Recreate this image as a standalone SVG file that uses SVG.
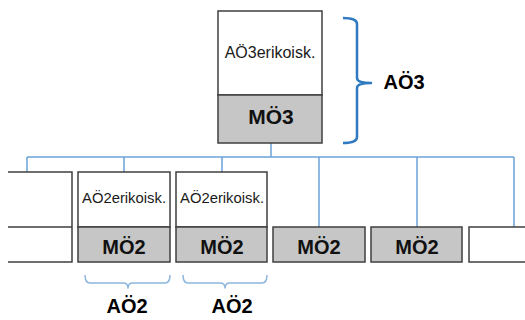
<svg xmlns="http://www.w3.org/2000/svg" width="525" height="320" viewBox="0 0 525 320">
  <defs>
    <style>
      .box { fill: #ffffff; stroke: #3f3f3f; stroke-width: 1.5; }
      .grey { fill: #c6c6c6; stroke: #3f3f3f; stroke-width: 1.5; }
      .edge { fill: none; stroke: #3f3f3f; stroke-width: 1.5; }
      .conn { fill: none; stroke: #6aa3d6; stroke-width: 1.5; }
      .brace { fill: none; stroke: #2f7ac0; stroke-width: 2.5; stroke-linejoin: round; }
      .brace-sm { fill: none; stroke: #8db6de; stroke-width: 1.5; stroke-linejoin: round; }
      .spec { font-family: "Liberation Sans", Arial, sans-serif; font-size: 14px; fill: #1a1a1a; text-anchor: middle; }
      .mo { font-family: "Liberation Sans", Arial, sans-serif; font-size: 20px; font-weight: bold; fill: #111111; text-anchor: middle; }
      .lbl { font-family: "Liberation Sans", Arial, sans-serif; font-size: 20px; font-weight: bold; fill: #000000; text-anchor: middle; }
    </style>
  </defs>

  <!-- connectors -->
  <g id="connectors">
    <path class="conn" d="M271,143 V157 M27,157 H514 M27,157 V172 M124,157 V172 M222,157 V172 M319,157 V227 M417,157 V227 M514,157 V227"/>
  </g>

  <!-- top unit -->
  <g id="mo3">
    <rect class="box" x="218" y="11" width="104" height="84"/>
    <rect class="grey" x="218" y="95" width="104" height="48"/>
    <text class="spec" x="270" y="58" style="font-size:16px">AÖ3erikoisk.</text>
    <text class="mo" x="271" y="124" style="font-size:21px">MÖ3</text>
  </g>

  <!-- left clipped unit -->
  <g id="unit-left">
    <path class="edge" d="M8,172 H72 V262 H8 M8,227 H72"/>
  </g>

  <g id="mo2-a">
    <rect class="box" x="78" y="172" width="92" height="55"/>
    <rect class="grey" x="78" y="227" width="92" height="35"/>
    <text class="spec" x="124" y="203" textLength="84" lengthAdjust="spacingAndGlyphs">AÖ2erikoisk.</text>
    <text class="mo" x="124" y="254">MÖ2</text>
  </g>

  <g id="mo2-b">
    <rect class="box" x="176" y="172" width="91" height="55"/>
    <rect class="grey" x="176" y="227" width="91" height="35"/>
    <text class="spec" x="222" y="203" textLength="84" lengthAdjust="spacingAndGlyphs">AÖ2erikoisk.</text>
    <text class="mo" x="222" y="254">MÖ2</text>
  </g>

  <g id="mo2-c">
    <rect class="grey" x="273" y="227" width="92" height="35"/>
    <text class="mo" x="319" y="254">MÖ2</text>
  </g>

  <g id="mo2-d">
    <rect class="grey" x="371" y="227" width="91" height="35"/>
    <text class="mo" x="417" y="254">MÖ2</text>
  </g>

  <!-- right clipped unit -->
  <g id="unit-right">
    <path class="edge" d="M526,227 H469 V262 H526"/>
  </g>

  <!-- level braces -->
  <g id="ao3">
    <path class="brace" d="M343,18 Q357,18 357,24 V78 Q357,83 371,83 Q357,83 357,88 V137 Q357,143 343,143"/>
    <text class="lbl" x="404" y="89">AÖ3</text>
  </g>

  <g id="ao2-a">
    <path class="brace-sm" d="M85,275 Q85,283 90,283 H123 Q128,283 128,288 Q128,283 133,283 H165 Q170,283 170,275"/>
    <text class="lbl" x="127" y="313">AÖ2</text>
  </g>

  <g id="ao2-b">
    <path class="brace-sm" d="M183,275 Q183,283 188,283 H220 Q225,283 225,288 Q225,283 230,283 H262 Q267,283 267,275"/>
    <text class="lbl" x="232" y="313">AÖ2</text>
  </g>
</svg>
